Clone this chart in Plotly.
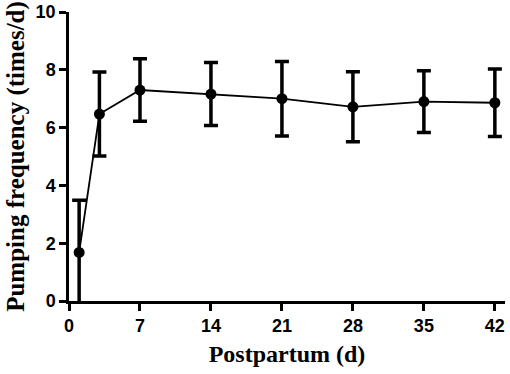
import plotly.graph_objects as go

days = [1, 3, 7, 14, 21, 28, 35, 42]
freq = [1.68, 6.47, 7.30, 7.16, 7.00, 6.72, 6.90, 6.86]
err = [1.81, 1.45, 1.08, 1.09, 1.29, 1.21, 1.07, 1.17]
x_ticks = [0, 7, 14, 21, 28, 35, 42]
y_ticks = [0, 2, 4, 6, 8, 10]

fig = go.Figure()
fig.add_trace(go.Scatter(
    x=days, y=freq, mode="lines+markers",
    line=dict(color="black", width=1.8),
    marker=dict(color="black", size=11),
    error_y=dict(type="data", array=err, visible=True, color="black",
                 thickness=3.5, width=7),
    showlegend=False,
))

tickfont = dict(family="Liberation Sans, Arial", size=18, color="black", weight="bold")
xtitlefont = dict(family="Liberation Serif, Times New Roman", size=24, color="black", weight="bold")
ytitlefont = dict(family="Liberation Serif, Times New Roman", size=25, color="black", weight="bold")

fig.update_layout(
    width=510, height=374,
    margin=dict(l=69, r=5, t=12, b=73),
    paper_bgcolor="white", plot_bgcolor="white",
    xaxis=dict(
        range=[0, 43], tickvals=x_ticks, ticktext=[str(v) for v in x_ticks],
        showline=True, linecolor="black", linewidth=2.5,
        ticks="outside", ticklen=7, tickwidth=2.5, tickcolor="black",
        showgrid=False, zeroline=False, automargin=False,
        tickfont=tickfont,
        title=dict(text="Postpartum (d)", font=xtitlefont, standoff=10),
    ),
    yaxis=dict(
        range=[0, 10], tickvals=y_ticks, ticktext=[str(v) for v in y_ticks],
        showline=True, linecolor="black", linewidth=2.5,
        ticks="outside", ticklen=7, tickwidth=2.5, tickcolor="black",
        showgrid=False, zeroline=False, automargin=False,
        tickfont=tickfont,
        title=dict(text="Pumping frequency (times/d)", font=ytitlefont, standoff=4),
    ),
)
fig.write_html("out.html", config={"displayModeBar": False},
               post_script="document.body.style.margin='0';document.body.style.overflow='hidden';")
